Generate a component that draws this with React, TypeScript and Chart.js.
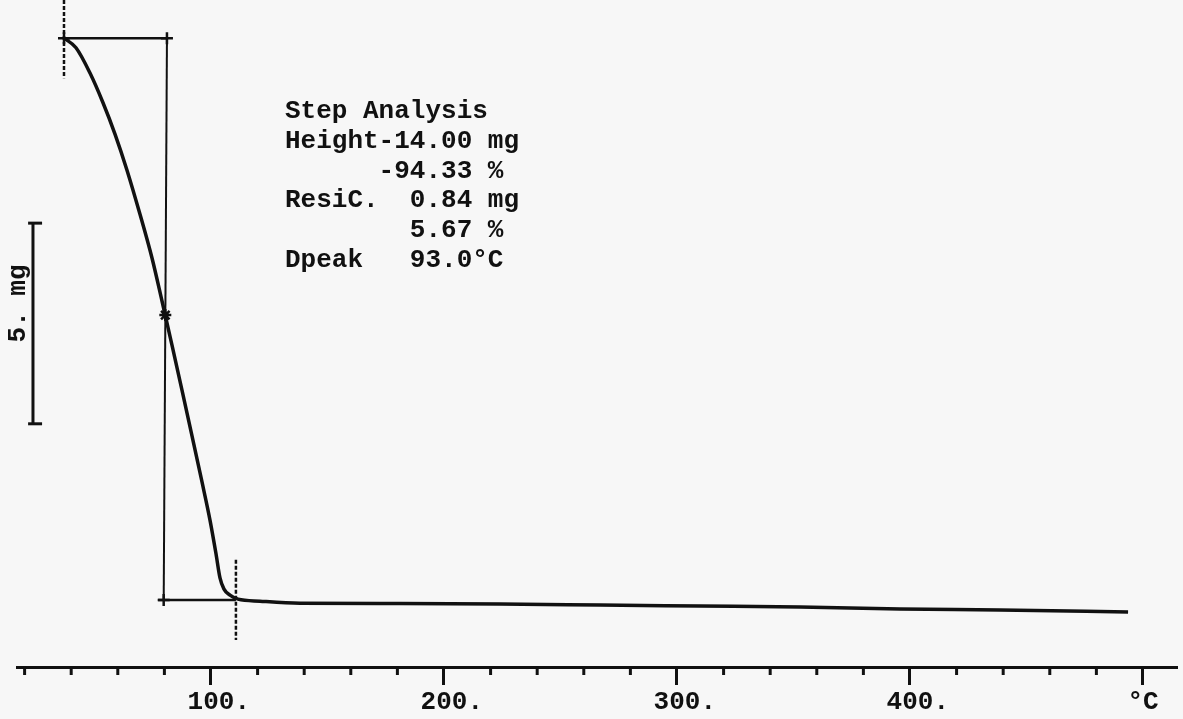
import React, { useEffect, useRef } from "react";
import { Chart, registerables } from "chart.js";

Chart.register(...registerables);

// TGA curve (temperature °C, mass mg)
const tempC = [36.91, 42.06, 48.07, 53.65, 58.8, 63.95, 69.53, 74.68, 78.97, 83.26, 87.55, 91.85, 96.14, 99.57, 102.15, 103.86, 105.58, 108.15, 111.59, 121.03, 138.2, 181.1, 224.0, 267.0, 309.9, 352.8, 395.7, 438.6, 493.6];
const massMg = [14.84, 14.6, 13.97, 13.23, 12.45, 11.55, 10.45, 9.36, 8.29, 7.19, 6.07, 4.93, 3.78, 2.83, 1.99, 1.39, 1.11, 0.96, 0.86, 0.81, 0.76, 0.75, 0.74, 0.715, 0.69, 0.665, 0.615, 0.59, 0.54];

// Step analysis construction
const stepStartC = 36.91;
const stepEndC = 110.7;
const startMass = 14.84;
const residueMass = 0.84;
const midLineTopC = 81.1;
const midLineBottomC = 79.7;
const bottomLineFromC = 77.3;
const inflectionC = 80.39;
const inflectionMass = 7.94;
const dashTopRange = [15.79, 13.84];
const dashBottomRange = [1.84, -0.16];

// 5 mg scale bar
const barC = 23.6;
const barCapC = [21.5, 27.5];
const barMass = [10.23, 5.23];

// axis
const xMin = 16.74;
const xMax = 514.6;
const yMin = -0.83;
const yMax = 15.79;
const tickStep = 20;
const labelledTicks = [100, 200, 300, 400];
const unitTick = 500;
const unitLabel = "°C";

const annotationLines = [
  "Step Analysis",
  "Height-14.00 mg",
  "      -94.33 %",
  "ResiC.  0.84 mg",
  "        5.67 %",
  "Dpeak   93.0°C",
];
const scaleLabel = "5. mg";

const INK = "#111111";
const BG = "#f7f7f7";
const FONT = "'Liberation Mono', 'DejaVu Sans Mono', monospace";

const pts = (xs: number[], ys: number[]) => xs.map((x, i) => ({ x, y: ys[i] }));

export default function App() {
  const ref = useRef<HTMLCanvasElement>(null);
  useEffect(() => {
    if (!ref.current) return;
    const line = (data: any[], width: number, extra: any = {}) => ({
      data,
      borderColor: INK,
      backgroundColor: INK,
      borderWidth: width,
      pointRadius: 0,
      showLine: true,
      fill: false,
      ...extra,
    });
    const overlay = {
      id: "overlay",
      beforeDraw(chart: any) {
        const c = chart.ctx;
        c.save();
        c.fillStyle = BG;
        c.fillRect(0, 0, chart.width, chart.height);
        c.restore();
      },
      afterDraw(chart: any) {
        const c = chart.ctx;
        const xs = chart.scales.x;
        const ys = chart.scales.y;
        c.save();
        // minor ticks
        c.strokeStyle = INK;
        c.lineWidth = 3;
        xs.ticks.forEach((t: any) => {
          if (t.value % 100 !== 0) {
            const px = xs.getPixelForValue(t.value);
            c.beginPath();
            c.moveTo(px, xs.top);
            c.lineTo(px, xs.top + 8);
            c.stroke();
          }
        });
        // annotation block
        c.fillStyle = INK;
        c.font = `bold 26px ${FONT}`;
        c.textAlign = "left";
        c.textBaseline = "alphabetic";
        annotationLines.forEach((s, i) => {
          c.fillText(s, 285, 118 + i * 29.8);
        });
        // scale label rotated
        const bx = xs.getPixelForValue(barC);
        const by = (ys.getPixelForValue(barMass[0]) + ys.getPixelForValue(barMass[1])) / 2;
        c.translate(bx - 15, by - 20);
        c.rotate(-Math.PI / 2);
        c.textAlign = "center";
        c.textBaseline = "middle";
        c.fillText(scaleLabel, 0, 0);
        c.restore();
      },
    };
    const chart = new Chart(ref.current, {
      type: "scatter",
      data: {
        datasets: [
          line(pts(tempC, massMg), 3.5, { cubicInterpolationMode: "monotone" }),
          line(pts([stepStartC, midLineTopC], [startMass, startMass]), 2.5),
          line(pts([midLineTopC, midLineBottomC], [startMass, residueMass]), 2),
          line(pts([bottomLineFromC, stepEndC], [residueMass, residueMass]), 2.5),
          line(pts([stepStartC, stepStartC], dashTopRange), 2.5, { borderDash: [4, 2] }),
          line(pts([stepEndC, stepEndC], dashBottomRange), 2.5, { borderDash: [4, 2] }),
          {
            data: pts([stepStartC, midLineTopC, midLineBottomC], [startMass, startMass, residueMass]),
            pointStyle: "cross",
            pointRadius: 6,
            borderColor: INK,
            borderWidth: 2.5,
            showLine: false,
          },
          {
            data: pts([inflectionC], [inflectionMass]),
            pointStyle: "star",
            pointRadius: 6,
            borderColor: INK,
            borderWidth: 2.5,
            showLine: false,
          },
          line(pts([barC, barC], barMass), 3),
          line(pts(barCapC, [barMass[0], barMass[0]]), 3),
          line(pts(barCapC, [barMass[1], barMass[1]]), 3),
        ],
      },
      options: {
        animation: false,
        responsive: false,
        events: [],
        layout: { autoPadding: false, padding: { left: 17, right: 6, top: 0, bottom: 0 } },
        plugins: { legend: { display: false }, tooltip: { enabled: false } },
        scales: {
          x: {
            type: "linear",
            min: xMin,
            max: xMax,
            border: { display: true, color: INK, width: 3 },
            grid: {
              drawOnChartArea: false,
              drawTicks: true,
              tickLength: 18,
              tickWidth: 3,
              tickColor: (ctx: any) =>
                ctx.tick && ctx.tick.value % 100 === 0 ? INK : "rgba(0,0,0,0)",
            },
            ticks: {
              stepSize: tickStep,
              includeBounds: false,
              autoSkip: false,
              maxRotation: 0,
              minRotation: 0,
              padding: 4,
              color: INK,
              font: { family: FONT, size: 26, weight: "bold", lineHeight: 1 },
              callback: (v: any) => {
                const n = Number(v);
                if (labelledTicks.includes(n)) return " " + n + ".";
                if (n === unitTick) return unitLabel;
                return "";
              },
            },
          },
          y: { type: "linear", display: false, min: yMin, max: yMax },
        },
      },
      plugins: [overlay],
    });
    return () => chart.destroy();
  }, []);
  return (
    <div style={{ position: "fixed", left: 0, top: 0, width: 1183, height: 719, background: BG }}>
      <canvas ref={ref} width={1183} height={719} style={{ display: "block" }} />
    </div>
  );
}
